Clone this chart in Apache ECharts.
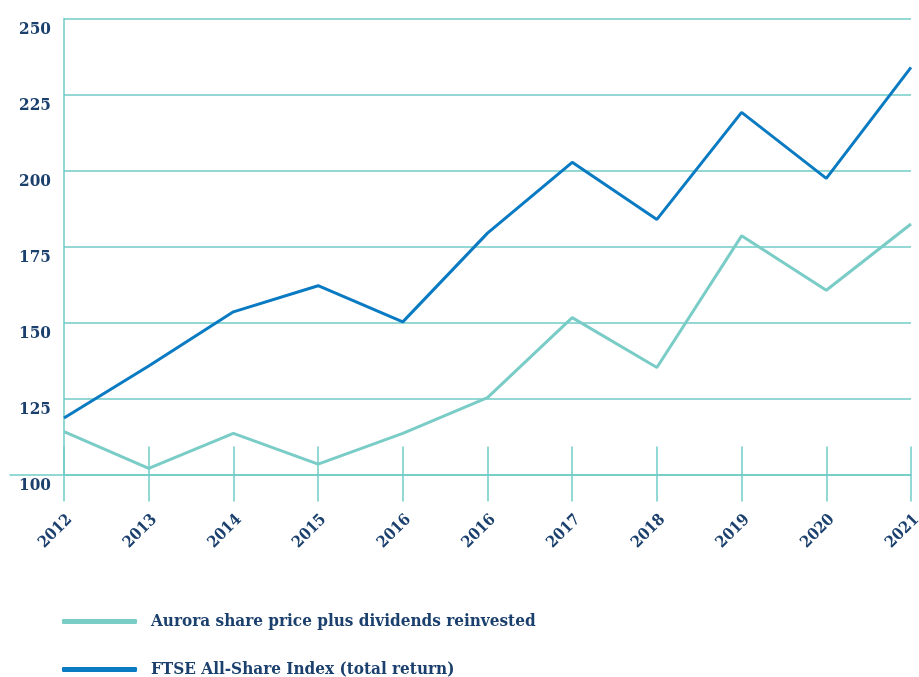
<!DOCTYPE html>
<html>
<head>
<meta charset="utf-8">
<script src="https://cdn.jsdelivr.net/npm/echarts@6/dist/echarts.min.js"></script>
<style>html,body{margin:0;padding:0;background:#fff;}#c{width:919px;height:677px;}</style>
</head>
<body>
<div id="c"></div>
<script>
const years = ['2012','2013','2014','2015','2016','2016','2017','2018','2019','2020','2021'];
const auroraName = 'Aurora share price plus dividends reinvested';
const ftseName = 'FTSE All-Share Index (total return)';
const aurora = [114.1, 102.0, 113.5, 103.4, 113.5, 125.3, 151.6, 135.2, 178.5, 160.6, 182.4];
const ftse = [118.6, 135.7, 153.5, 162.1, 150.2, 179.4, 202.7, 183.9, 219.1, 197.4, 233.9];
const yTicks = { min: 100, max: 250, interval: 25 };

const teal = '#6fcbc6';
const navy = '#1b406d';
const font = '"DejaVu Serif Condensed", "DejaVu Serif", serif';

function legendFor(name, top) {
  return {
    orient: 'vertical', left: 62, top: top, padding: 0,
    itemWidth: 75, itemHeight: 5, icon: 'roundRect',
    textStyle: { color: navy, fontSize: 17, fontWeight: 'bold', fontFamily: font, padding: [0, 0, 0, 9] },
    data: [name]
  };
}

const chart = echarts.init(document.getElementById('c'), null, { renderer: 'canvas' });
chart.setOption({
  animation: false,
  backgroundColor: '#ffffff',
  grid: [
    { left: 64, right: 8, top: 18.5, bottom: 202.5, containLabel: false, outerBoundsMode: 'none' },
    { left: 10, right: 8, top: 18.5, bottom: 202.5, containLabel: false, outerBoundsMode: 'none' }
  ],
  legend: [legendFor(auroraName, 613), legendFor(ftseName, 661)],
  xAxis: [
    {
      type: 'category', gridIndex: 0, data: years, boundaryGap: false, offset: 27,
      axisLine: { show: false },
      axisTick: { show: true, inside: true, length: 55, interval: 0, lineStyle: { color: teal, width: 1.5 } },
      axisLabel: { interval: 0, rotate: 45, margin: 10, verticalAlign: 'top', color: navy, fontSize: 16, fontWeight: 'bold', fontFamily: font },
      splitLine: { show: false }
    },
    {
      type: 'value', gridIndex: 1, min: 0, max: 1,
      axisLine: { show: true, lineStyle: { color: teal, width: 1.5 } },
      axisTick: { show: false }, axisLabel: { show: false }, splitLine: { show: false }
    }
  ],
  yAxis: [
    {
      type: 'value', gridIndex: 0, min: yTicks.min, max: yTicks.max, interval: yTicks.interval,
      axisLine: { show: true, lineStyle: { color: teal, width: 1.5 } },
      axisTick: { show: false },
      splitLine: { show: true, lineStyle: { color: teal, width: 1.5 } },
      axisLabel: { color: navy, fontSize: 17, fontWeight: 'bold', fontFamily: font, margin: 13, verticalAlign: 'top', lineHeight: 23 }
    },
    {
      type: 'value', gridIndex: 1, min: yTicks.min, max: yTicks.max, show: false
    }
  ],
  series: [
    {
      name: auroraName, type: 'line', xAxisIndex: 0, yAxisIndex: 0, data: aurora,
      symbol: 'none', lineStyle: { color: '#7accc7', width: 3 }, itemStyle: { color: '#7accc7' }, z: 3
    },
    {
      name: ftseName, type: 'line', xAxisIndex: 0, yAxisIndex: 0, data: ftse,
      symbol: 'none', lineStyle: { color: '#0a7bc2', width: 3 }, itemStyle: { color: '#0a7bc2' }, z: 4
    }
  ]
});
</script>
</body>
</html>
